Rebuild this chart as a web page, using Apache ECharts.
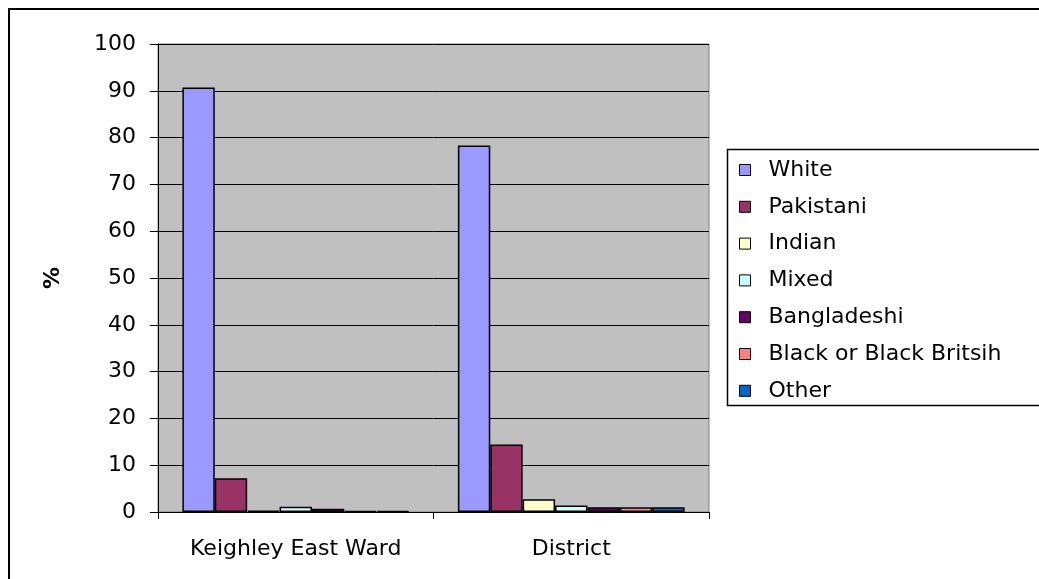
<!DOCTYPE html>
<html>
<head>
<meta charset="utf-8">
<script src="https://cdn.jsdelivr.net/npm/echarts@6/dist/echarts.min.js"></script>
<style>
html,body{margin:0;padding:0;background:#fff;}
#chart{width:1039px;height:579px;}
</style>
</head>
<body>
<div id="chart"></div>
<script>
const categories = ['Keighley East Ward', 'District'];
const seriesNames = ['White', 'Pakistani', 'Indian', 'Mixed', 'Bangladeshi', 'Black or Black Britsih', 'Other'];
const white = [90.7, 78.3];
const pakistani = [7.2, 14.4];
const indian = [0.3, 2.7];
const mixed = [1.1, 1.4];
const bangladeshi = [0.7, 1.0];
const blackBritish = [0.2, 1.0];
const other = [0.2, 1.0];
const yTicks = [0, 10, 20, 30, 40, 50, 60, 70, 80, 90, 100];

const seriesData = [white, pakistani, indian, mixed, bangladeshi, blackBritish, other];
const colors = ['#9999FF', '#993366', '#FFFFCC', '#CCFFFF', '#660066', '#FF8080', '#0066CC'];
const FONT = 'DejaVu Sans';

const chart = echarts.init(document.getElementById('chart'));
chart.setOption({
  animation: false,
  backgroundColor: '#ffffff',
  textStyle: { fontFamily: FONT },
  grid: { left: 158, right: 330, top: 44, bottom: 67, show: true, backgroundColor: '#C0C0C0', borderColor: '#808080', borderWidth: 1 },
  legend: {
    orient: 'vertical',
    left: 739,
    top: 159,
    padding: 0,
    itemWidth: 11,
    itemHeight: 11,
    itemGap: 14.8,
    icon: 'rect',
    data: seriesNames,
    textStyle: { fontFamily: FONT, fontSize: 22, color: '#000', padding: [0, 0, 0, 13] },
    itemStyle: { borderColor: '#000', borderWidth: 1 }
  },
  xAxis: {
    type: 'category',
    data: categories,
    boundaryGap: true,
    axisLine: { lineStyle: { color: '#000', width: 1 } },
    axisTick: { show: true, length: 7, lineStyle: { color: '#000' } },
    axisLabel: { fontFamily: FONT, fontSize: 22, color: '#000', margin: 26 },
    splitLine: { show: false }
  },
  yAxis: {
    type: 'value',
    min: yTicks[0],
    max: yTicks[yTicks.length - 1],
    interval: 10,
    name: '%',
    nameLocation: 'middle',
    nameGap: 94,
    nameRotate: 90,
    nameTextStyle: { fontFamily: FONT, fontSize: 22, fontWeight: 'bold', color: '#000' },
    axisLine: { show: true, lineStyle: { color: '#000', width: 1 } },
    axisTick: { show: true, length: 8, lineStyle: { color: '#000' } },
    axisLabel: { fontFamily: FONT, fontSize: 22, color: '#000', margin: 22 },
    splitLine: { show: true, lineStyle: { color: '#000', width: 1 } }
  },
  series: seriesNames.map((n, i) => ({
    name: n,
    type: 'bar',
    data: seriesData[i],
    barGap: '0%',
    barCategoryGap: '17.7%',
    itemStyle: { color: colors[i], borderColor: '#000', borderWidth: 1.5 }
  })),
  graphic: [
    { type: 'rect', z: 100, silent: true, shape: { x: 9, y: 9, width: 1200, height: 800 }, style: { fill: 'none', stroke: '#000', lineWidth: 2 } },
    { type: 'rect', z: 100, silent: true, shape: { x: 727.5, y: 149.5, width: 400, height: 256 }, style: { fill: 'none', stroke: '#000', lineWidth: 1.5 } }
  ]
});
</script>
</body>
</html>
